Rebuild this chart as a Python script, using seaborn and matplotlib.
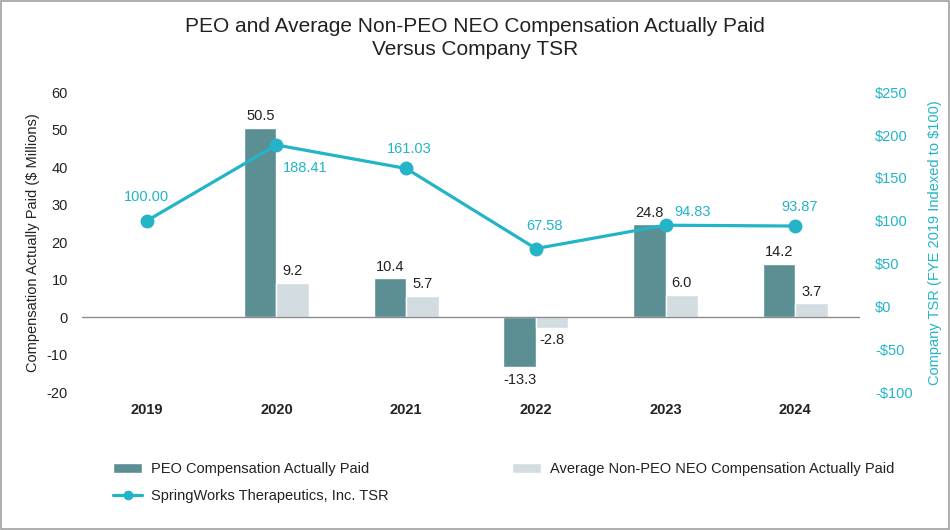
import numpy as np
import pandas as pd
import seaborn as sns
import matplotlib.pyplot as plt
from matplotlib.patches import Patch, Rectangle
from matplotlib.lines import Line2D

years = ["2019", "2020", "2021", "2022", "2023", "2024"]
peo_cap = [np.nan, 50.5, 10.4, -13.3, 24.8, 14.2]
neo_cap = [np.nan, 9.2, 5.7, -2.8, 6.0, 3.7]
tsr = [100.00, 188.41, 161.03, 67.58, 94.83, 93.87]

peo_name = "PEO Compensation Actually Paid"
neo_name = "Average Non-PEO NEO Compensation Actually Paid"
tsr_name = "SpringWorks Therapeutics, Inc. TSR"

peo_color = "#5b8f93"
neo_color = "#d3dde1"
tsr_color = "#23b4c8"

sns.set_theme(style="white")
plt.rcParams["font.family"] = ["Liberation Sans", "DejaVu Sans"]
plt.rcParams["axes.unicode_minus"] = False

df = pd.DataFrame({
    "year": years * 2,
    "value": peo_cap + neo_cap,
    "series": [peo_name] * len(years) + [neo_name] * len(years),
})

fig = plt.figure(figsize=(9.5, 5.3), dpi=100)
ax = fig.add_axes([0.0863, 0.26, 0.819, 0.566])

sns.barplot(data=df, x="year", y="value", hue="series", order=years,
            palette=[peo_color, neo_color], width=0.5, saturation=1,
            legend=False, ax=ax)
ax.set_xlim(-0.5, 5.5)
ax.set_ylim(-20, 60)
ax.set_yticks(range(-20, 61, 10))
ax.axhline(0, color="#8c8c8c", lw=1, zorder=1)
ax.set_xlabel("")
ax.set_ylabel("Compensation Actually Paid ($ Millions)", fontsize=10.5, color="#222222", labelpad=5)
ax.tick_params(axis="y", length=0, labelsize=10.5, colors="#222222", pad=10)
ax.tick_params(axis="x", length=0, labelsize=10.5, colors="#222222", pad=8)
for lbl in ax.get_xticklabels():
    lbl.set_fontweight("bold")
for s in ax.spines.values():
    s.set_visible(False)

# bar value labels
for i in range(len(years)):
    for val, off in ((peo_cap[i], -0.125), (neo_cap[i], 0.125)):
        if np.isnan(val):
            continue
        if val >= 0:
            ax.text(i + off, val + 1.2, f"{val:.1f}", ha="center", va="bottom",
                    fontsize=10.5, color="#222222")
        else:
            ax.text(i + off, val - 1.5, f"{val:.1f}", ha="center", va="top",
                    fontsize=10.5, color="#222222")

ax2 = ax.twinx()
sns.lineplot(x=np.arange(len(years)), y=tsr, color=tsr_color, lw=2.3,
             marker="o", markersize=10, markeredgewidth=0, ax=ax2)
ax2.set_ylim(-100, 250)
ax2.set_yticks(range(-100, 251, 50))
ax2.set_yticklabels([f"-${-v}" if v < 0 else f"${v}" for v in range(-100, 251, 50)])
ax2.tick_params(axis="y", length=0, labelsize=10.5, colors=tsr_color, pad=11)
ax2.set_ylabel("Company TSR (FYE 2019 Indexed to $100)", fontsize=10.5, color=tsr_color, labelpad=11)
for s in ax2.spines.values():
    s.set_visible(False)

tsr_offsets = [(0, 17, "center"), (21, -16.5, "center"), (2, 14, "center"),
               (6, 16, "center"), (6.5, 9.5, "left"), (3, 14, "center")]
for i, (v, (dx, dy, ha)) in enumerate(zip(tsr, tsr_offsets)):
    ax2.annotate(f"{v:.2f}", (i, v), xytext=(dx, dy), textcoords="offset points",
                 ha=ha, va="center", fontsize=10.5, color=tsr_color)

fig.suptitle("PEO and Average Non-PEO NEO Compensation Actually Paid\nVersus Company TSR",
             y=0.968, fontsize=15, color="#222222", linespacing=1.25)

handles = [
    Patch(facecolor=peo_color, label=peo_name),
    Line2D([0], [0], color=tsr_color, lw=2.3, marker="o", markersize=6, label=tsr_name),
    Patch(facecolor=neo_color, label=neo_name),
]
fig.legend(handles=handles, ncol=2, loc="upper left", bbox_to_anchor=(0.113, 0.139),
           frameon=False, fontsize=10.5, columnspacing=8.4, handlelength=2.0,
           handleheight=0.65, handletextpad=0.62, labelspacing=0.9,
           labelcolor="#222222", borderaxespad=0)

fig.patches.append(Rectangle((0.001, 0.001), 0.998, 0.998, transform=fig.transFigure,
                             fill=False, edgecolor="#a0a0a0", lw=1.2))

fig.savefig("out.png", dpi=100)
